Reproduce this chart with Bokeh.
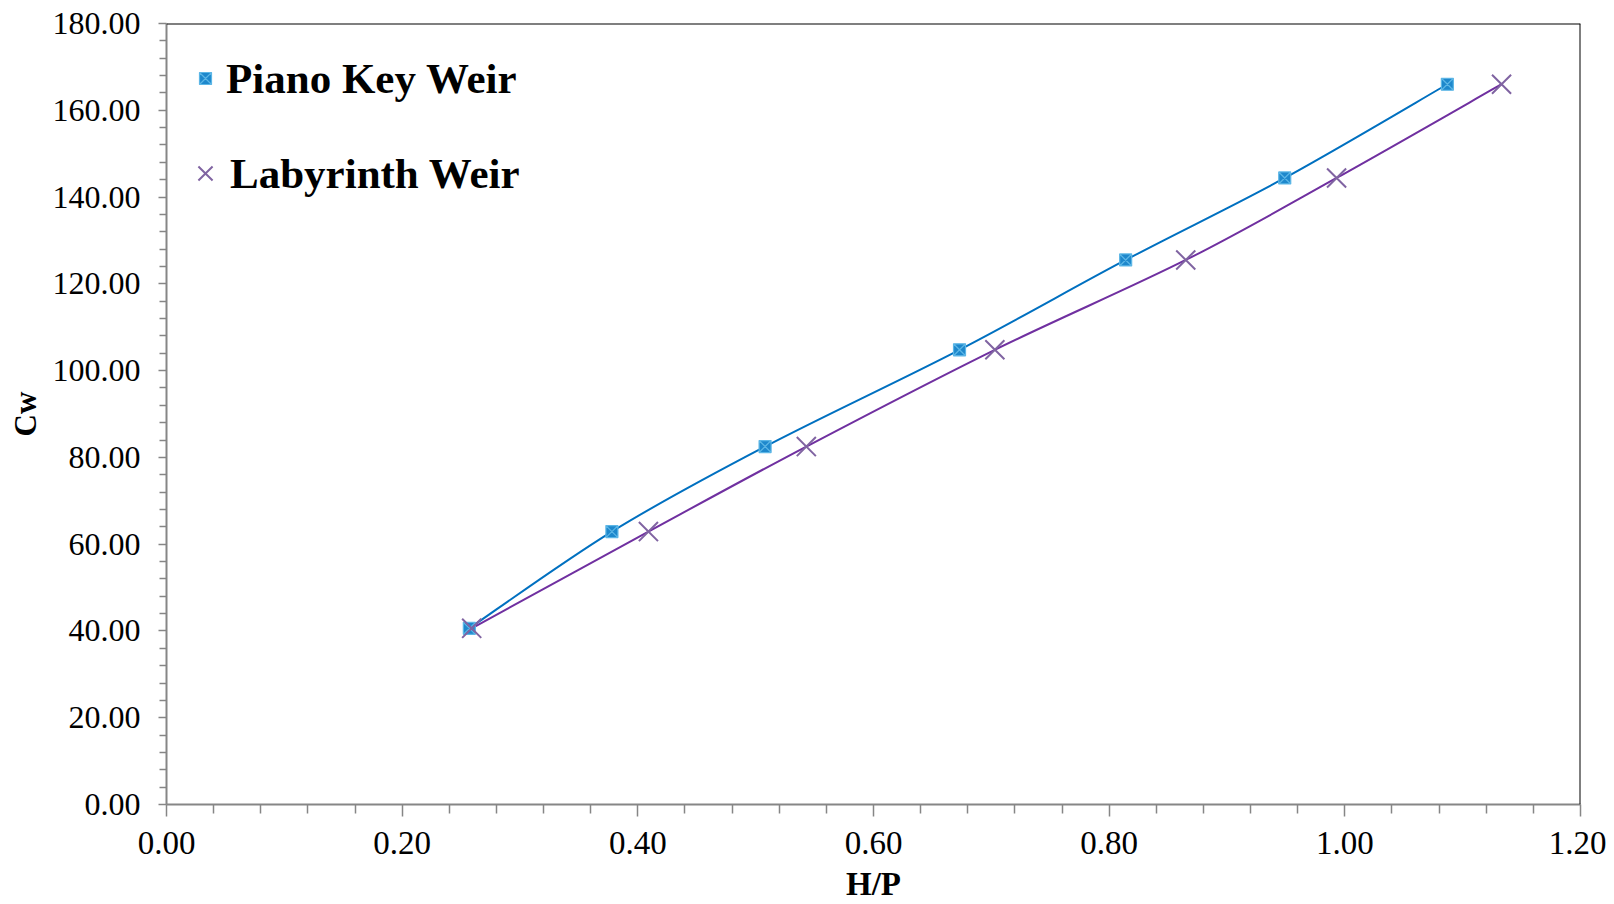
import numpy as np
from bokeh.plotting import figure
from bokeh.models import (Legend, LegendItem, Span, Range1d, FixedTicker,
                          NumeralTickFormatter)
from bokeh.embed import file_html
from bokeh.resources import INLINE

# Data
hp_piano = [0.257, 0.378, 0.508, 0.673, 0.814, 0.949, 1.087]
hp_laby = [0.259, 0.409, 0.543, 0.703, 0.865, 0.993, 1.133]
cw_piano = [40.6, 62.9, 82.5, 104.8, 125.5, 144.4, 166.0]
cw_laby = [40.6, 62.9, 82.5, 104.8, 125.5, 144.4, 166.0]
series_names = ["Piano Key Weir", "Labyrinth Weir"]
x_ticks = [0.0, 0.2, 0.4, 0.6, 0.8, 1.0, 1.2]
y_ticks = [0, 20, 40, 60, 80, 100, 120, 140, 160, 180]

FONT = "Liberation Serif"


def minor_between(ticks, n=5):
    out = []
    for a, b in zip(ticks[:-1], ticks[1:]):
        for k in range(1, n):
            out.append(round(a + (b - a) * k / n, 6))
    return out


def smooth_segments(xs, ys):
    pts = np.column_stack([xs, ys]).astype(float)
    n = len(pts)
    out = dict(x0=[], y0=[], x1=[], y1=[], cx0=[], cy0=[], cx1=[], cy1=[])
    for i in range(n - 1):
        p0 = pts[i - 1] if i > 0 else pts[i]
        p1 = pts[i]
        p2 = pts[i + 1]
        p3 = pts[i + 2] if i + 2 < n else pts[i + 1]
        c1 = p1 + (p2 - p0) / 6.0
        c2 = p2 - (p3 - p1) / 6.0
        out["x0"].append(p1[0]); out["y0"].append(p1[1])
        out["x1"].append(p2[0]); out["y1"].append(p2[1])
        out["cx0"].append(c1[0]); out["cy0"].append(c1[1])
        out["cx1"].append(c2[0]); out["cy1"].append(c2[1])
    return out


p = figure(width=1606, height=904, output_backend="svg", toolbar_location=None,
           x_range=Range1d(0, 1.2), y_range=Range1d(0, 180),
           min_border_left=166, min_border_top=23, min_border_right=26,
           min_border_bottom=100)
p.outline_line_color = None
p.xgrid.visible = False
p.ygrid.visible = False
p.background_fill_color = "white"
p.border_fill_color = "white"

# smooth lines
s1 = smooth_segments(hp_piano, cw_piano)
p.bezier(line_color="#0070C0", line_width=2, **s1)
s2 = smooth_segments(hp_laby, cw_laby)
p.bezier(line_color="#7030A0", line_width=2, **s2)

r_pk = p.scatter(hp_piano, cw_piano, marker="square_x", size=12,
                 fill_color="#1E88CC", line_color="#5CB6E6", line_width=1.2)
r_lb = p.scatter(hp_laby, cw_laby, marker="x", size=27,
                 line_color="#8064A2", line_width=2)

# top/right border
p.add_layout(Span(location=180, dimension="width", line_color="black", line_width=2))
p.add_layout(Span(location=1.2, dimension="height", line_color="black", line_width=2))

# axes
p.xaxis.ticker = FixedTicker(ticks=x_ticks, minor_ticks=minor_between(x_ticks))
p.yaxis.ticker = FixedTicker(ticks=y_ticks, minor_ticks=minor_between(y_ticks))
p.xaxis.formatter = NumeralTickFormatter(format="0.00")
p.yaxis.formatter = NumeralTickFormatter(format="0.00")

for ax in (p.xaxis[0], p.yaxis[0]):
    ax.axis_line_color = "#868686"
    ax.axis_line_width = 2
    ax.major_tick_line_color = "#868686"
    ax.minor_tick_line_color = "#868686"
    ax.major_tick_line_width = 1.5
    ax.minor_tick_line_width = 1.5
    ax.major_tick_in = 0
    ax.minor_tick_in = 0
    ax.major_label_text_font = FONT
    ax.major_label_text_color = "black"
    ax.axis_label_text_font = FONT
    ax.axis_label_text_font_style = "bold"
    ax.axis_label_text_color = "black"

p.xaxis.major_label_text_font_size = "33px"
p.yaxis.major_label_text_font_size = "32px"
p.xaxis.axis_label_text_font_size = "33px"
p.yaxis.axis_label_text_font_size = "31px"
p.xaxis.axis_label = "H/P"
p.yaxis.axis_label = "Cw"
p.xaxis.major_tick_out = 12
p.xaxis.minor_tick_out = 9
p.yaxis.major_tick_out = 8
p.yaxis.minor_tick_out = 7
p.xaxis.major_label_standoff = 15
p.yaxis.major_label_standoff = 18
p.xaxis.axis_label_standoff = 9
p.yaxis.axis_label_standoff = 7

# legends (two, so each marker keeps its own size)
leg1 = Legend(items=[LegendItem(label=series_names[0], renderers=[r_pk])],
              location=(24, 695))
leg1.margin = 0
leg1.padding = 0
leg1.glyph_width = 30
leg1.glyph_height = 62
leg1.label_height = 62
leg1.label_standoff = 6

leg2 = Legend(items=[LegendItem(label=series_names[1], renderers=[r_lb])],
              location=(14, 606))
leg2.margin = 0
leg2.padding = 0
leg2.glyph_width = 50
leg2.glyph_height = 50
leg2.label_height = 50
leg2.label_standoff = 0

for lg in (leg1, leg2):
    lg.label_text_font = FONT
    lg.label_text_font_size = "43px"
    lg.label_text_font_style = "bold"
    lg.label_text_color = "black"
    lg.background_fill_alpha = 0
    lg.border_line_color = None
    p.add_layout(lg)

open("out.html", "w").write(file_html(p, INLINE))
